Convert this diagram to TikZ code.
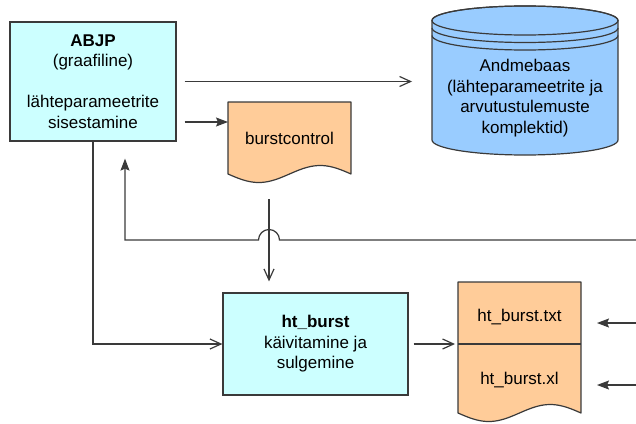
\documentclass[tikz,border=0pt]{standalone}
\usepackage{fontspec}
\setmainfont{Liberation Sans}
\usetikzlibrary{arrows.meta}
\definecolor{procfill}{HTML}{CCFFFF}
\definecolor{docfill}{HTML}{FFCC99}
\definecolor{dbfill}{HTML}{99CCFF}
\definecolor{ink}{HTML}{3A3A3A}

\begin{document}
\begin{tikzpicture}[x=1pt,y=-1pt,
  txt/.style={font=\fontsize{17}{20.5}\selectfont, align=center, inner sep=0pt, text=black},
  procbox/.style={draw=ink, line width=1.2pt, fill=procfill, inner sep=0pt},
  outline/.style={draw=ink, line width=1.2pt, line join=round},
  frame/.style={inner sep=0pt, outer sep=0pt, draw=none},
  wire/.style={draw=ink, line width=1.2pt},
  openhead/.style={-{Straight Barb[length=11pt,width=10pt]}},
  solidhead/.style={-{Stealth[length=12pt,width=9pt,inset=2pt]}},
]
\useasboundingbox (0,0) rectangle (636,423);

% process boxes
\node[procbox, txt, minimum width=166pt, minimum height=119pt] (abjp) at (93,81.5)
  {\textbf{ABJP}\\(graafiline)\\[20.5pt]lähteparameetrite\\sisestamine};
\node[procbox, txt, minimum width=185pt, minimum height=102pt] (ht) at (315.5,344)
  {\textbf{ht\_burst}\\käivitamine ja\\sulgemine};

% database cylinder
\filldraw[outline, fill=dbfill] (432,20.5) -- (432,140)
  arc[start angle=180, end angle=360, x radius=93pt, y radius=15pt]
  -- (618,20.5)
  arc[start angle=0, end angle=180, x radius=93pt, y radius=14.5pt] -- cycle;
\draw[outline] (525,20.5) ellipse[x radius=93pt, y radius=14.5pt];
\draw[outline] (432,28) arc[start angle=180, end angle=360, x radius=93pt, y radius=14.5pt];
\draw[outline] (432,35.5) arc[start angle=180, end angle=360, x radius=93pt, y radius=14.5pt];
\node[frame, minimum width=186pt, minimum height=150pt] (db) at (525,80.5) {};
\node[txt] (dbtext) at (525,98)
  {Andmebaas\\(lähteparameetrite ja\\arvutustulemuste\\komplektid)};

% document: burstcontrol
\filldraw[outline, fill=docfill]
  plot[domain=0:1, samples=41, variable=\t] ({228+123*\t},{174+8.5*sin(360*\t)})
  -- (351,102) -- (228,102) -- cycle;
\node[frame, txt, minimum width=123pt, minimum height=72pt] (bc) at (289.5,138) {burstcontrol};

% document: output files
\filldraw[outline, fill=docfill]
  plot[domain=0:1, samples=41, variable=\t] ({458+123*\t},{413+8.5*sin(360*\t)})
  -- (581,282) -- (458,282) -- cycle;
\draw[outline] (458,344) -- (581,344);
\node[frame, minimum width=123pt, minimum height=131pt] (files) at (519.5,347.5) {};
\node[txt] (txtfile) at (519.5,317) {ht\_burst.txt};
\node[txt] (xlfile) at (519.5,380) {ht\_burst.xl};

% connectors
\draw[wire, openhead, shorten <=8pt, shorten >=20pt] (abjp.east) -- (abjp.east -| db.west);
\coordinate (bcin) at (228,122);
\draw[wire, solidhead, shorten <=8pt] (abjp.east |- bcin) -- (bcin);
\draw[wire, openhead] (abjp.south) |- (ht.west);
\coordinate (bcout) at (269,199);
\draw[wire, openhead, shorten >=11pt] (bcout) -- (bcout |- ht.north);
\coordinate (fbin) at (636,240);
\coordinate (fbturn) at (125,240);
\coordinate (hop) at (269,240);
\draw[wire, solidhead, shorten >=17pt] (fbin) -- ([xshift=10.5pt]hop)
  arc[start angle=0, end angle=180, radius=10.5pt] -- (fbturn) -- (fbturn |- abjp.south);
\draw[wire, openhead, shorten <=5pt, shorten >=3pt] (ht.east) -- (ht.east -| files.west);
\coordinate (txtin) at (636,323);
\coordinate (xlin) at (636,385);
\draw[wire, solidhead, shorten >=16pt] (txtin) -- (txtin -| files.east);
\draw[wire, solidhead, shorten >=16pt] (xlin) -- (xlin -| files.east);
\end{tikzpicture}
\end{document}
